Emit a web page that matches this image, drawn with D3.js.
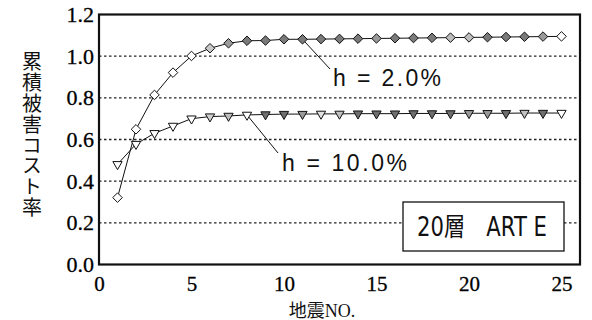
<!DOCTYPE html>
<html>
<head>
<meta charset="utf-8">
<script src="https://cdn.jsdelivr.net/npm/d3@7"></script>
<style>
  body { margin: 0; background: #fff; }
  svg { display: block; }
</style>
</head>
<body>
<svg id="chart" width="592" height="320"></svg>
<script>
// earthquake number 1..25
const quakes = d3.range(1, 26)
// cumulative damage cost ratio, h = 2.0%
const h2 = [0.321, 0.649, 0.814, 0.921, 1.001, 1.038, 1.062, 1.074, 1.075, 1.081,
    1.081, 1.082, 1.083, 1.084, 1.085, 1.086, 1.087, 1.088, 1.089, 1.090,
    1.091, 1.092, 1.093, 1.094, 1.095]
// cumulative damage cost ratio, h = 10.0%
const h10 = [0.481, 0.578, 0.630, 0.665, 0.700, 0.710, 0.713, 0.718, 0.720, 0.722,
    0.722, 0.723, 0.723, 0.724, 0.724, 0.724, 0.725, 0.725, 0.725, 0.726,
    0.726, 0.726, 0.727, 0.727, 0.727]
const yTicks = [0, 0.2, 0.4, 0.6, 0.8, 1.0, 1.2]
const xTicks = [0, 5, 10, 15, 20, 25]

// marker shading, as printed
const h2Fill = ["#fff", "#fff", "#fff", "#fff", "#fff", "#c8c8c8", "#9a9a9a", "#7a7a7a", "#7a7a7a", "#7a7a7a",
    "#7a7a7a", "#7a7a7a", "#7a7a7a", "#7a7a7a", "#9a9a9a", "#7a7a7a", "#7a7a7a", "#7a7a7a", "#bdbdbd", "#bdbdbd",
    "#7a7a7a", "#7a7a7a", "#7a7a7a", "#9a9a9a", "#fff"]
const h10Fill = ["#fff", "#fff", "#fff", "#fff", "#fff", "#d0d0d0", "#bdbdbd", "#fff", "#6e6e6e", "#6e6e6e",
    "#9a9a9a", "#e0e0e0", "#c0c0c0", "#6e6e6e", "#6e6e6e", "#6e6e6e", "#6e6e6e", "#6e6e6e", "#6e6e6e", "#9a9a9a",
    "#9a9a9a", "#6e6e6e", "#c0c0c0", "#6e6e6e", "#fff"]

const svg = d3.select("#chart")
const plotLeft = 99, plotRight = 580, plotTop = 14.5, plotBottom = 264.5

const x = d3.scaleLinear().domain([0, 26]).range([plotLeft, plotRight])
const y = d3.scaleLinear().domain([0, 1.2]).range([plotBottom, plotTop])

const serif = "'Liberation Serif', 'Times New Roman', serif"
const sans = "'Liberation Sans', Arial, sans-serif"
const cjk = "'Noto Sans CJK JP', sans-serif"

// dotted grid
svg.append("g")
    .selectAll("line")
    .data(yTicks.filter((d) => d > 0 && d < 1.2))
    .join("line")
    .attr("x1", plotLeft)
    .attr("x2", plotRight)
    .attr("y1", (d) => y(d))
    .attr("y2", (d) => y(d))
    .attr("stroke", "#222")
    .attr("stroke-width", 1.3)
    .attr("stroke-dasharray", "2.5,2.5")

// frame
svg.append("rect")
    .attr("x", plotLeft)
    .attr("y", plotTop)
    .attr("width", plotRight - plotLeft)
    .attr("height", plotBottom - plotTop)
    .attr("fill", "none")
    .attr("stroke", "#111")
    .attr("stroke-width", 2.2)

// axes (labels only)
const yAxis = svg.append("g")
    .attr("transform", `translate(${plotLeft},0)`)
    .call(d3.axisLeft(y).tickValues(yTicks).tickFormat(d3.format(".1f")).tickSize(0).tickPadding(5))
yAxis.select(".domain").remove()
yAxis.attr("font-family", serif).attr("font-size", 22)
yAxis.selectAll("text").attr("fill", "#000").attr("stroke", "#000").attr("stroke-width", 0.3)

const xAxis = svg.append("g")
    .attr("transform", `translate(0,${plotBottom})`)
    .call(d3.axisBottom(x).tickValues(xTicks).tickFormat(d3.format("d")).tickSize(0).tickPadding(12))
xAxis.select(".domain").remove()
xAxis.attr("font-family", serif).attr("font-size", 21)
xAxis.selectAll("text").attr("fill", "#000").attr("stroke", "#000").attr("stroke-width", 0.3)

// series lines
const line = d3.line()
    .x((d, i) => x(quakes[i]))
    .y((d) => y(d))

for (const s of [h2, h10]) {
    svg.append("path")
        .datum(s)
        .attr("fill", "none")
        .attr("stroke", "#111")
        .attr("stroke-width", 1)
        .attr("d", line)
}

// leader lines
svg.append("line")
    .attr("x1", x(11)).attr("y1", y(h2[10]))
    .attr("x2", 330).attr("y2", 69)
    .attr("stroke", "#111").attr("stroke-width", 1)
svg.append("line")
    .attr("x1", x(8)).attr("y1", y(h10[7]))
    .attr("x2", 278).attr("y2", 153)
    .attr("stroke", "#111").attr("stroke-width", 1)

// markers
const diamond = d3.symbol().type(d3.symbolDiamond2).size(58)
svg.append("g")
    .selectAll("path")
    .data(h2)
    .join("path")
    .attr("d", diamond)
    .attr("transform", (d, i) => `translate(${x(quakes[i])},${y(d)})`)
    .attr("fill", (d, i) => h2Fill[i])
    .attr("stroke", "#111")
    .attr("stroke-width", 1)

const tri = d3.symbol().type(d3.symbolTriangle2).size(62)
svg.append("g")
    .selectAll("path")
    .data(h10)
    .join("path")
    .attr("d", tri)
    .attr("transform", (d, i) => `translate(${x(quakes[i])},${y(d)}) rotate(180)`)
    .attr("fill", (d, i) => h10Fill[i])
    .attr("stroke", "#111")
    .attr("stroke-width", 1)

// series labels
svg.append("text")
    .attr("x", 333).attr("y", 86)
    .attr("font-family", sans).attr("font-size", 23)
    .attr("textLength", 108).attr("lengthAdjust", "spacing")
    .attr("fill", "#111")
    .text("h = 2.0%")
svg.append("text")
    .attr("x", 282).attr("y", 171)
    .attr("font-family", sans).attr("font-size", 23)
    .attr("textLength", 125).attr("lengthAdjust", "spacing")
    .attr("fill", "#111")
    .text("h = 10.0%")

// model box
svg.append("rect")
    .attr("x", 403).attr("y", 202)
    .attr("width", 161).attr("height", 49)
    .attr("fill", "#fff")
    .attr("stroke", "#111")
    .attr("stroke-width", 1.3)
svg.append("text")
    .attr("x", 417).attr("y", 236)
    .attr("font-family", "'DejaVu Sans', 'Noto Sans CJK JP', sans-serif")
    .attr("font-size", 26)
    .attr("textLength", 130).attr("lengthAdjust", "spacingAndGlyphs")
    .attr("fill", "#111")
    .text("20層\u3000ART E")

// axis titles
svg.append("text")
    .attr("transform", "translate(32,135)")
    .attr("writing-mode", "vertical-rl")
    .attr("text-anchor", "middle")
    .attr("font-family", cjk)
    .attr("font-size", 20)
    .attr("letter-spacing", 0.8)
    .attr("fill", "#111")
    .text("累積被害コスト率")

svg.append("text")
    .attr("x", 322).attr("y", 317)
    .attr("text-anchor", "middle")
    .attr("font-family", `${serif.split(",")[0]}, ${cjk}`)
    .attr("font-size", 18)
    .attr("fill", "#111")
    .text("地震NO.")
</script>
</body>
</html>
